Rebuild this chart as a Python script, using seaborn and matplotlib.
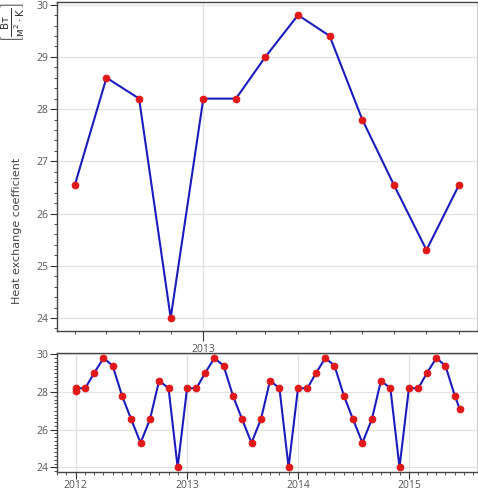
import numpy as np
import pandas as pd
import seaborn as sns
import matplotlib.pyplot as plt
import matplotlib.dates as mdates

# monthly readings, Jan 2012 .. mid Jun 2015
dates = ["2012-01-01", "2012-01-01",
         "2012-02-01", "2012-03-01", "2012-04-01", "2012-05-01", "2012-06-01", "2012-07-01",
         "2012-08-01", "2012-09-01", "2012-10-01", "2012-11-01", "2012-12-01",
         "2013-01-01", "2013-02-01", "2013-03-01", "2013-04-01", "2013-05-01", "2013-06-01",
         "2013-07-01", "2013-08-01", "2013-09-01", "2013-10-01", "2013-11-01", "2013-12-01",
         "2014-01-01", "2014-02-01", "2014-03-01", "2014-04-01", "2014-05-01", "2014-06-01",
         "2014-07-01", "2014-08-01", "2014-09-01", "2014-10-01", "2014-11-01", "2014-12-01",
         "2015-01-01", "2015-02-01", "2015-03-01", "2015-04-01", "2015-05-01", "2015-06-01",
         "2015-06-17"]
values = [28.05, 28.2,
          28.2, 29.0, 29.8, 29.4, 27.8, 26.55, 25.3, 26.55, 28.6, 28.2, 24.0,
          28.2, 28.2, 29.0, 29.8, 29.4, 27.8, 26.55, 25.3, 26.55, 28.6, 28.2, 24.0,
          28.2, 28.2, 29.0, 29.8, 29.4, 27.8, 26.55, 25.3, 26.55, 28.6, 28.2, 24.0,
          28.2, 28.2, 29.0, 29.8, 29.4, 27.8,
          27.1]

# zoomed window shown in the upper panel
zoom_start, zoom_end = "2012-09-01", "2013-09-01"

df = pd.DataFrame({"date": pd.to_datetime(dates), "value": values})
df_zoom = df[(df["date"] >= zoom_start) & (df["date"] <= zoom_end)]

sns.set_style("white")
plt.rcParams['font.family'] = ['Open Sans', 'DejaVu Sans']

line_color = "#1c1cbc"
dot_color = "#e01818"
grid_color = "#e2e2e2"
tick_color = "#555555"

fig = plt.figure(figsize=(4.78, 4.92), dpi=100)
ax_top = fig.add_axes([57 / 478, 1 - 331 / 492, 420 / 478, 329 / 492])
ax_bot = fig.add_axes([57 / 478, 1 - 472 / 492, 420 / 478, 119 / 492])

for ax, data in ((ax_top, df_zoom), (ax_bot, df)):
    sns.lineplot(data=data, x="date", y="value", ax=ax, estimator=None, sort=False,
                 color=line_color, linewidth=1.5, marker="o", markersize=4.8,
                 markerfacecolor=dot_color, markeredgecolor=dot_color)
    ax.set_xlabel("")
    ax.set_ylabel("")
    ax.xaxis.set_major_locator(mdates.YearLocator())
    ax.xaxis.set_minor_locator(mdates.MonthLocator())
    ax.xaxis.set_major_formatter(mdates.DateFormatter("%Y"))
    ax.grid(True, which="major", color=grid_color, linewidth=0.9)
    ax.set_axisbelow(True)
    ax.tick_params(which="both", direction="out", color="#333333", labelcolor=tick_color,
                   labelsize=7.5, bottom=True, left=True)
    ax.tick_params(which="major", length=5, pad=1.5)
    ax.tick_params(which="minor", length=2.5)
    ax.tick_params(axis="x", which="major", pad=2)
    for side in ("left", "top", "bottom"):
        ax.spines[side].set_color("#444444")
        ax.spines[side].set_linewidth(1.0)
    ax.spines["right"].set_color("#d0d0d0")

ax_top.set_xlim(pd.Timestamp("2012-08-15"), pd.Timestamp("2013-09-18"))
ax_top.set_ylim(23.75, 30.05)
ax_top.yaxis.set_major_locator(plt.MultipleLocator(1))
ax_top.yaxis.set_minor_locator(plt.MultipleLocator(0.2))
ax_top.tick_params(axis="x", which="major", length=7)

ax_bot.set_xlim(pd.Timestamp("2011-10-31"), pd.Timestamp("2015-08-13"))
ax_bot.set_ylim(23.75, 30.07)
ax_bot.yaxis.set_major_locator(plt.MultipleLocator(2))
ax_bot.yaxis.set_minor_locator(plt.MultipleLocator(0.2))
ax_bot.tick_params(axis="x", which="major", pad=1)

fig.text(17 / 478, 1 - 231 / 492, "Heat exchange coefficient", rotation=90,
         ha="center", va="center", fontsize=8, color="#444444", family="DejaVu Sans")
fig.text(13 / 478, 1 - 22 / 492, r"$\left[\frac{\mathrm{Вт}}{\mathrm{м^2 \cdot K}}\right]$",
         rotation=90, ha="center", va="center", fontsize=10.5, color="#333333")

fig.savefig("out.png", dpi=100, facecolor="white")
